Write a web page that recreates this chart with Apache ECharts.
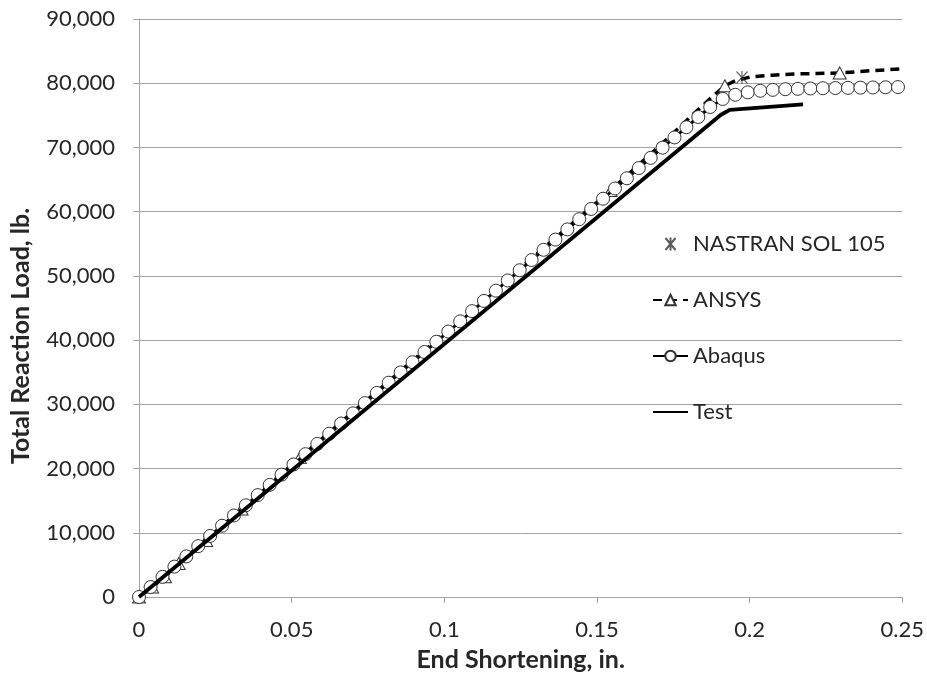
<!DOCTYPE html>
<html>
<head>
<meta charset="utf-8">
<script src="https://cdn.jsdelivr.net/npm/echarts@6/dist/echarts.min.js"></script>
<style>
  html, body { margin: 0; padding: 0; background: #ffffff; }
  #chart { width: 927px; height: 677px; }
</style>
</head>
<body>
<div id="chart"></div>
<script>
// ---- Data ----
const xTicks = [0, 0.05, 0.1, 0.15, 0.2, 0.25];
const xTickLabels = ["0", "0.05", "0.1", "0.15", "0.2", "0.25"];
const yTicks = [0, 10000, 20000, 30000, 40000, 50000, 60000, 70000, 80000, 90000];

const nastranX = [0.1975];
const nastranY = [80900];

const ansysX = [0, 0.0043, 0.0085, 0.0130, 0.0220, 0.0336, 0.0527, 0.1545, 0.1736, 0.1811, 0.1871, 0.1919, 0.1954, 0.2000, 0.2073, 0.2160, 0.2295, 0.2400, 0.2500];
const ansysY = [0, 1550, 3150, 5200, 8800, 13700, 21700, 63300, 71600, 75000, 77600, 79600, 80400, 80950, 81250, 81450, 81600, 81950, 82250];
const ansysMarker = [1, 1, 1, 1, 1, 1, 1, 1, 0, 0, 0, 1, 0, 0, 0, 0, 1, 0, 0];

const abaqusX = [0, 0.0038, 0.0077, 0.0116, 0.0155, 0.0194, 0.0233, 0.0272, 0.0311, 0.0350, 0.0389, 0.0428, 0.0467, 0.0506, 0.0545, 0.0584, 0.0623, 0.0662, 0.0701, 0.0740, 0.0779, 0.0818, 0.0857, 0.0896, 0.0935, 0.0974, 0.1013, 0.1052, 0.1091, 0.1130, 0.1169, 0.1208, 0.1247, 0.1286, 0.1325, 0.1364, 0.1403, 0.1442, 0.1481, 0.1520, 0.1559, 0.1598, 0.1637, 0.1676, 0.1715, 0.1754, 0.1793, 0.1832, 0.1871, 0.1912, 0.1953, 0.1994, 0.2035, 0.2076, 0.2117, 0.2158, 0.2199, 0.2240, 0.2281, 0.2322, 0.2363, 0.2404, 0.2445, 0.2486];
const abaqusY = [0, 1550, 3140, 4730, 6320, 7920, 9510, 11100, 12690, 14280, 15870, 17460, 19050, 20640, 22240, 23830, 25420, 27010, 28600, 30190, 31780, 33370, 34970, 36560, 38150, 39740, 41330, 42920, 44510, 46100, 47700, 49290, 50880, 52470, 54060, 55650, 57240, 58830, 60420, 62020, 63610, 65200, 66790, 68380, 69970, 71560, 73150, 74740, 76300, 77550, 78200, 78580, 78820, 78970, 79070, 79130, 79180, 79220, 79250, 79280, 79310, 79340, 79370, 79400];

const testX = [0, 0.1905, 0.1935, 0.2175];
const testY = [0, 75050, 75850, 76700];

const seriesNames = ["NASTRAN SOL 105", "ANSYS", "Abaqus", "Test"];

// ---- Build ----
function zip(xs, ys) { return xs.map((x, i) => [x, ys[i]]); }
const ansysData = ansysX.map((x, i) => ansysMarker[i]
  ? { value: [x, ansysY[i]] }
  : { value: [x, ansysY[i]], symbol: 'none' });

const FONT = 'Lato, "Open Sans", sans-serif';
const TXT = '#262626';
const GRID = '#a3a3a3';
const STAR = 'path://M0,0L10,12M10,0L0,12M5,-0.5L5,12.5';

const chart = echarts.init(document.getElementById('chart'), null, { renderer: 'canvas' });
chart.setOption({
  backgroundColor: '#ffffff',
  animation: false,
  textStyle: { fontFamily: FONT },
  grid: { left: 138, right: 23, top: 19, bottom: 80, containLabel: false },
  legend: {
    orient: 'vertical',
    left: 647,
    top: 228,
    itemWidth: 35,
    itemHeight: 13,
    itemGap: 34,
    data: [
      { name: seriesNames[0] },
      { name: seriesNames[1] },
      { name: seriesNames[2] },
      { name: seriesNames[3], itemStyle: { opacity: 0 } }
    ],
    textStyle: { fontFamily: FONT, fontSize: 22, color: TXT }
  },
  xAxis: {
    type: 'value',
    min: xTicks[0],
    max: xTicks[xTicks.length - 1],
    interval: 0.05,
    name: 'End Shortening, in.',
    nameLocation: 'middle',
    nameGap: 50,
    nameTextStyle: { fontFamily: FONT, fontSize: 25, fontWeight: 'bold', color: TXT },
    axisLine: { show: true, lineStyle: { color: GRID, width: 1 } },
    axisTick: { show: true, length: 6, lineStyle: { color: GRID } },
    splitLine: { show: false },
    axisLabel: {
      fontFamily: FONT, fontSize: 22, color: TXT, margin: 22,
      formatter: function (v) {
        const i = xTicks.findIndex(t => Math.abs(t - v) < 1e-9);
        return i >= 0 ? xTickLabels[i] : '';
      }
    }
  },
  yAxis: {
    type: 'value',
    min: yTicks[0],
    max: yTicks[yTicks.length - 1],
    interval: 10000,
    name: 'Total Reaction Load, lb.',
    nameLocation: 'middle',
    nameGap: 106,
    nameTextStyle: { fontFamily: FONT, fontSize: 25, fontWeight: 'bold', color: TXT, padding: [0, 56, 0, 0] },
    axisLine: { show: true, lineStyle: { color: GRID, width: 1 } },
    axisTick: { show: true, length: 6, lineStyle: { color: GRID } },
    splitLine: { show: true, lineStyle: { color: GRID, width: 1 } },
    axisLabel: {
      fontFamily: FONT, fontSize: 22, color: TXT, margin: 24,
      formatter: function (v) { return v.toLocaleString('en-US'); }
    }
  },
  series: [
    {
      name: seriesNames[0],
      type: 'scatter',
      data: zip(nastranX, nastranY),
      symbol: STAR,
      symbolSize: [11, 13],
      itemStyle: { color: 'rgba(0,0,0,0)', borderColor: '#333', borderWidth: 1.2 },
      z: 6
    },
    {
      name: seriesNames[1],
      type: 'line',
      data: ansysData,
      symbol: 'triangle',
      symbolSize: [13, 12],
      showSymbol: true,
      itemStyle: { color: '#ffffff', borderColor: '#333', borderWidth: 1 },
      lineStyle: { color: '#000', width: 3.5, type: [9, 6] },
      z: 3
    },
    {
      name: seriesNames[2],
      type: 'line',
      data: zip(abaqusX, abaqusY),
      symbol: 'circle',
      symbolSize: 13,
      showSymbol: true,
      itemStyle: { color: '#ffffff', borderColor: '#333', borderWidth: 1 },
      lineStyle: { color: '#000', width: 3 },
      z: 4
    },
    {
      name: seriesNames[3],
      type: 'line',
      data: zip(testX, testY),
      symbol: 'none',
      lineStyle: { color: '#000', width: 3.8 },
      itemStyle: { color: '#000' },
      z: 5
    }
  ]
});
</script>
</body>
</html>
